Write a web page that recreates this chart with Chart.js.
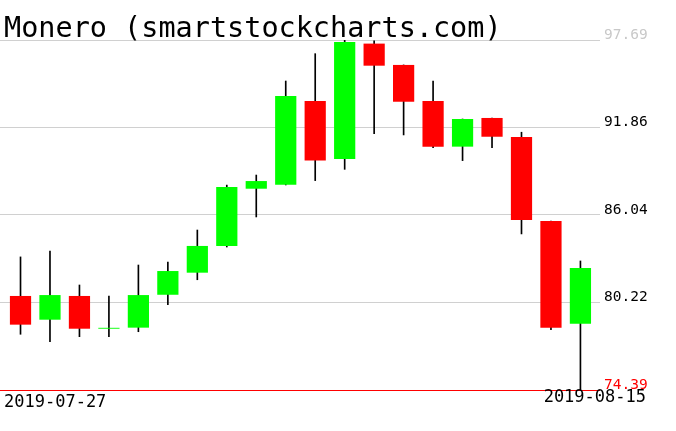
<!DOCTYPE html>
<html>
<head>
<meta charset="utf-8">
<script src="https://cdn.jsdelivr.net/npm/chart.js@4"></script>
<style>
  html, body { margin: 0; padding: 0; background: #fff; }
  #wrap { width: 676px; height: 431px; position: relative; }
</style>
</head>
<body>
<div id="wrap"><canvas id="chart"></canvas></div>
<script>
// candle data, one entry per day
const title = 'Monero (smartstockcharts.com)';
const dates = [
    '2019-07-27', '2019-07-28', '2019-07-29', '2019-07-30', '2019-07-31',
    '2019-08-01', '2019-08-02', '2019-08-03', '2019-08-04', '2019-08-05',
    '2019-08-06', '2019-08-07', '2019-08-08', '2019-08-09', '2019-08-10',
    '2019-08-11', '2019-08-12', '2019-08-13', '2019-08-14', '2019-08-15'
];
const opens  = [80.65, 79.07, 80.65, 78.47, 78.54, 80.73, 82.20, 83.98, 87.79, 88.06,
                93.63, 89.77, 97.45, 96.03, 93.63, 90.59, 92.50, 91.23, 85.64, 78.80];
const highs  = [83.25, 83.64, 81.38, 80.65, 82.71, 82.91, 85.04, 88.03, 88.70, 94.96,
                96.78, 97.69, 97.63, 96.03, 94.96, 92.43, 92.50, 91.55, 85.64, 82.98];
const lows   = [78.10, 77.61, 77.94, 77.94, 78.27, 80.07, 81.73, 83.91, 85.91, 88.04,
                88.33, 89.08, 91.45, 91.37, 90.52, 89.66, 90.52, 84.78, 78.40, 74.39];
const closes = [78.74, 80.71, 78.47, 78.53, 80.71, 82.31, 83.98, 87.90, 88.30, 93.96,
                89.66, 97.56, 95.98, 93.58, 90.59, 92.43, 91.25, 85.71, 78.54, 82.51];
const yTicks = [74.39, 80.22, 86.04, 91.86, 97.69];

const UP = '#00ff00';
const DOWN = '#ff0000';
const MONO = '"DejaVu Sans Mono", monospace';

// title over the plot and first / last date under it
const chartText = {
    id: 'chartText',
    afterDraw(chart) {
        const { ctx, chartArea } = chart;
        ctx.save();
        ctx.fillStyle = '#000';
        ctx.textBaseline = 'alphabetic';
        ctx.textAlign = 'left';
        ctx.font = '28.5px ' + MONO;
        ctx.fillText(title, 4, chartArea.top - 3);

        ctx.font = '17px ' + MONO;
        ctx.fillText(dates[0], chartArea.left + 4, chartArea.bottom + 17);
        ctx.textAlign = 'right';
        ctx.fillText(dates[dates.length - 1], chartArea.right + 46, chartArea.bottom + 12);
        ctx.restore();
    }
};

const bodies = dates.map((d, i) => ({ x: i, y: [opens[i], closes[i]] }));
const wicks = dates.map((d, i) => ({ x: i, y: [lows[i], highs[i]] }));

new Chart(document.getElementById('chart'), {
    type: 'bar',
    data: {
        datasets: [
            {
                label: 'body',
                data: bodies,
                backgroundColor: bodies.map((b, i) => closes[i] >= opens[i] ? UP : DOWN),
                borderWidth: 0,
                grouped: false,
                categoryPercentage: 1,
                barPercentage: 0.72,
                order: 0
            },
            {
                label: 'wick',
                data: wicks,
                backgroundColor: '#000',
                borderWidth: 0,
                grouped: false,
                barThickness: 1,
                order: 1
            }
        ]
    },
    options: {
        responsive: true,
        maintainAspectRatio: false,
        animation: false,
        layout: { padding: { left: 0, right: 0, top: 40, bottom: 41 } },
        plugins: {
            legend: { display: false },
            tooltip: { enabled: false },
            title: { display: false }
        },
        scales: {
            x: {
                type: 'linear',
                display: false,
                offset: false,
                min: -0.696,
                max: 19.664
            },
            y: {
                position: 'right',
                min: 74.39,
                max: 97.69,
                border: { display: false },
                afterBuildTicks: (scale) => {
                    scale.ticks = yTicks.map(v => ({ value: v }));
                },
                afterFit: (scale) => {
                    scale.width = 76;
                },
                grid: {
                    drawTicks: false,
                    color: (ctx) => ctx.tick && ctx.tick.value === 74.39 ? '#ff0000' : '#d0d0d0',
                    lineWidth: 1
                },
                ticks: {
                    padding: 4,
                    labelOffset: -5,
                    font: { family: MONO, size: 14.5 },
                    color: (ctx) => {
                        const v = ctx.tick.value;
                        if (v === 74.39) return '#ff0000';
                        if (v === 97.69) return '#c8c8c8';
                        return '#000';
                    },
                    callback: (value) => Number(value).toFixed(2)
                }
            }
        }
    },
    plugins: [chartText]
});
</script>
</body>
</html>
